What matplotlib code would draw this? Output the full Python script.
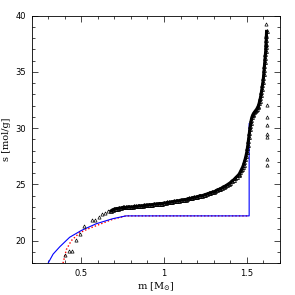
import matplotlib
matplotlib.use("Agg")
import matplotlib.pyplot as plt
from matplotlib.ticker import MultipleLocator

# blue model line (m, s)
blue_m = [0.30, 0.33, 0.37, 0.43, 0.50, 0.59, 0.69, 0.77, 1.514, 1.514]
blue_s = [18.0, 18.8, 19.45, 20.3, 20.9, 21.5, 21.95, 22.2, 22.2, 30.4]

# red dotted model line
red_m = [0.39, 0.40, 0.41, 0.44, 0.49, 0.55, 0.62, 0.69, 0.77, 1.514]
red_s = [18.0, 18.6, 19.2, 20.0, 20.7, 21.1, 21.5, 21.9, 22.2, 22.2]

# simulation particles: sparse low-mass part
low_m = [0.40, 0.425, 0.445, 0.47, 0.49, 0.515, 0.565, 0.585, 0.605, 0.625, 0.645, 0.66]
low_s = [18.7, 19.1, 19.1, 20.1, 20.6, 21.3, 21.8, 21.85, 22.1, 22.4, 22.5, 22.6]

# dense main branch
main_m = [0.68, 0.69, 0.70, 0.71, 0.72, 0.73, 0.74, 0.75, 0.76, 0.77, 0.78, 0.79,
          0.80, 0.81, 0.82, 0.83, 0.84, 0.85, 0.86, 0.87, 0.88, 0.89, 0.90, 0.91,
          0.92, 0.93, 0.94, 0.95, 0.96, 0.97, 0.98, 0.99, 1.00, 1.01, 1.02, 1.03,
          1.04, 1.05, 1.06, 1.07, 1.08, 1.09, 1.10, 1.11, 1.12, 1.13, 1.14, 1.15,
          1.16, 1.17, 1.18, 1.19, 1.20, 1.21, 1.22, 1.23, 1.24, 1.25, 1.26, 1.27,
          1.28, 1.29, 1.30, 1.31, 1.32, 1.33, 1.34, 1.35, 1.36, 1.37, 1.38, 1.39,
          1.40, 1.41, 1.42, 1.43, 1.44, 1.45, 1.455, 1.46, 1.465, 1.47, 1.475, 1.48,
          1.485, 1.49, 1.495, 1.50, 1.503, 1.506, 1.509, 1.512, 1.515, 1.518, 1.521,
          1.524, 1.527, 1.53, 1.535, 1.54, 1.545, 1.55, 1.555, 1.56, 1.565, 1.57,
          1.574, 1.578, 1.582, 1.585, 1.588, 1.591, 1.594, 1.597, 1.600, 1.602,
          1.604, 1.606, 1.608, 1.610, 1.612, 1.614, 1.615, 1.616, 1.617, 1.618, 1.619]
main_s = [22.65, 22.75, 22.8, 22.85, 22.85, 22.9, 22.9, 22.95, 22.95, 22.95, 23.0, 23.0,
          23.0, 23.0, 23.05, 23.05, 23.05, 23.1, 23.1, 23.1, 23.15, 23.15, 23.15, 23.2,
          23.2, 23.2, 23.25, 23.25, 23.25, 23.3, 23.3, 23.3, 23.35, 23.35, 23.4, 23.4,
          23.45, 23.45, 23.5, 23.5, 23.55, 23.55, 23.6, 23.6, 23.65, 23.65, 23.7, 23.75,
          23.75, 23.8, 23.85, 23.85, 23.9, 23.95, 24.0, 24.0, 24.05, 24.1, 24.15, 24.2,
          24.25, 24.3, 24.35, 24.4, 24.5, 24.55, 24.6, 24.7, 24.8, 24.85, 24.95, 25.05,
          25.15, 25.3, 25.4, 25.55, 25.7, 25.85, 25.95, 26.1, 26.25, 26.4, 26.55, 26.75,
          27.0, 27.25, 27.55, 27.9, 28.2, 28.5, 28.85, 29.2, 29.55, 29.9, 30.2,
          30.5, 30.75, 30.95, 31.15, 31.3, 31.4, 31.5, 31.6, 31.7, 31.85, 32.0,
          32.2, 32.45, 32.7, 32.95, 33.2, 33.5, 33.8, 34.1, 34.45, 34.8,
          35.15, 35.5, 35.85, 36.2, 36.55, 36.9, 37.2, 37.5, 37.85, 38.2, 38.6]

# outliers at the high-mass end
out_m = [1.615, 1.616, 1.617, 1.62, 1.62, 1.62, 1.62, 1.62, 1.62, 1.62]
out_s = [39.3, 38.3, 37.4, 32.1, 31.0, 30.3, 29.5, 29.2, 27.3, 26.7]

fig = plt.figure(figsize=(2.95, 2.95), dpi=100)
ax = fig.add_axes([0.107, 0.108, 0.842, 0.839])

ax.plot(red_m, red_s, color='red', lw=1.0, linestyle=(0, (1, 1.5)))
ax.plot(blue_m, blue_s, color='blue', lw=0.8)

tri = dict(marker='^', linestyle='none', markersize=2.3, markerfacecolor='none',
           markeredgecolor='black', markeredgewidth=0.5)
ax.plot(low_m, low_s, **tri)
# dense band of overlapping particles
ax.plot(main_m, main_s, color='black', lw=2.2)
ax.plot(main_m, main_s, **dict(tri, markersize=2.8, markeredgewidth=0.6))
ax.plot(out_m, out_s, **tri)

ax.set_xlim(0.2, 1.7)
ax.set_ylim(18, 40)
ax.xaxis.set_minor_locator(MultipleLocator(0.1))
ax.yaxis.set_major_locator(MultipleLocator(5))
ax.yaxis.set_minor_locator(MultipleLocator(1))
ax.set_xticks([0.5, 1.0, 1.5])
ax.set_xticklabels(['0.5', '1', '1.5'])
ax.tick_params(which='both', direction='in', top=True, right=True, labelsize=6, width=0.5)
ax.tick_params(which='major', length=4, pad=4)
ax.tick_params(which='minor', length=2)
for sp in ax.spines.values():
    sp.set_linewidth(0.6)

ax.set_xlabel(r'm [M$_{\odot}$]', fontsize=7, family='DejaVu Serif', labelpad=2)
ax.set_ylabel('s [mol/g]', fontsize=7, family='DejaVu Serif', labelpad=3)

fig.savefig('out.png', dpi=100)
